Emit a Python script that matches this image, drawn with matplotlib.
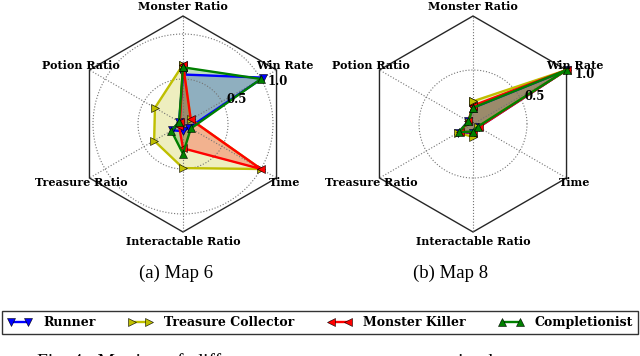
import numpy as np
import matplotlib
matplotlib.use("Agg")
import matplotlib.pyplot as plt
from matplotlib.patches import Polygon

metrics = ["Monster Ratio", "Win Rate", "Time", "Interactable Ratio",
           "Treasure Ratio", "Potion Ratio"]
personas = ["Runner", "Treasure Collector", "Monster Killer", "Completionist"]

# map 6 values, order as metrics
map6_runner = [0.55, 1.03, 0.08, 0.08, 0.14, 0.05]
map6_treasure = [0.66, 0.10, 1.00, 0.49, 0.37, 0.36]
map6_killer = [0.66, 0.10, 1.00, 0.27, 0.05, 0.04]
map6_complete = [0.63, 1.00, 0.10, 0.33, 0.15, 0.05]

# map 8 values
map8_runner = [0.15, 1.00, 0.06, 0.08, 0.16, 0.05]
map8_treasure = [0.21, 1.00, 0.05, 0.12, 0.16, 0.04]
map8_killer = [0.17, 1.00, 0.06, 0.08, 0.14, 0.05]
map8_complete = [0.15, 1.00, 0.05, 0.07, 0.15, 0.05]

colors = ["b", "y", "r", "g"]
markers = ["v", ">", "<", "^"]

angles = np.deg2rad([90, 30, 330, 270, 210, 150])

fig = plt.figure(figsize=(6.4, 3.56), dpi=100)
bold = dict(family="DejaVu Serif", weight="bold", size=8)


def radar(rect, data, rmax, label_r, circles):
    ax = fig.add_axes(rect, projection="polar")
    ax.spines["polar"].set_visible(False)
    ax.patch.set_visible(False)
    ax.set_thetagrids(np.rad2deg(angles), labels=[""] * 6)
    ax.grid(True, color="0.45", linestyle=":", linewidth=0.8)
    # hexagon frame
    verts = [(0.5 + 0.5 * np.cos(a), 0.5 + 0.5 * np.sin(a)) for a in angles]
    ax.add_patch(Polygon(verts, closed=True, fill=False, ec="0.15", lw=1.0,
                         transform=ax.transAxes, clip_on=False))
    for vals, c, m, name in zip(data, colors, markers, personas):
        th = np.append(angles, angles[0])
        rr = np.append(vals, vals[0])
        ax.plot(th, rr, color=c, lw=1.7, marker=m, ms=5.5, mec="k", mew=0.4,
                label=name, clip_on=False)
        ax.fill(th, rr, color=c, alpha=0.25)
    ax.set_xlim(0, 2 * np.pi)
    ax.set_ylim(0, rmax)
    ax.set_rgrids(circles, labels=[""] * len(circles))
    for a, lab in zip(angles, metrics):
        ax.text(a, label_r, lab, ha="center", va="center", clip_on=False, **bold)
    off = 0.13 * rmax
    for v in [0.5, 1.0]:
        ax.text(np.deg2rad(24), v + off, "%.1f" % v, ha="center", va="center",
                clip_on=False, **dict(bold, size=8.5))
    return ax


ax1 = radar([75 / 640, 124 / 356, 216 / 640, 216 / 356],
            [map6_runner, map6_treasure, map6_killer, map6_complete],
            1.2, 1.2 * 1.09, [0.5, 1.0])
ax2 = radar([365 / 640, 124 / 356, 216 / 640, 216 / 356],
            [map8_runner, map8_treasure, map8_killer, map8_complete],
            1.0, 1.09, [0.5])

fig.text(176 / 640, 1 - 273 / 356, "(a) Map 6", ha="center", va="center",
         family="Liberation Serif", size=13.5)
fig.text(451 / 640, 1 - 273 / 356, "(b) Map 8", ha="center", va="center",
         family="Liberation Serif", size=13.5)

h, l = ax1.get_legend_handles_labels()
leg = fig.legend(h, l, loc="lower left", ncol=4, mode="expand",
                 bbox_to_anchor=(2 / 640, 22 / 356, 636 / 640, 23 / 356),
                 borderaxespad=0, fancybox=False, numpoints=2, handlelength=2.0,
                 handletextpad=0.9, borderpad=0.4,
                 prop=dict(family="DejaVu Serif", weight="bold", size=9))
leg.get_frame().set_edgecolor("k")
leg.get_frame().set_linewidth(1.0)

fig.text(37 / 640, 1 - 367 / 356,
         "Fig. 4:  Metrics  of  different  personas  across  maps  in  the",
         ha="left", va="baseline", family="Liberation Serif", size=14)

fig.savefig("out.png", dpi=100)
